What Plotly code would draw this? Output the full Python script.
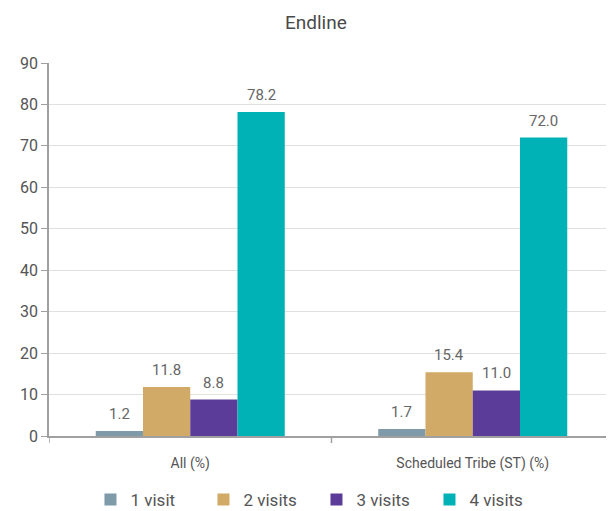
import plotly.graph_objects as go

categorias = ['All (%)', 'Scheduled Tribe (ST) (%)']
series = ['1 visit', '2 visits', '3 visits', '4 visits']
valores = {
    '1 visit': [1.2, 1.7],
    '2 visits': [11.8, 15.4],
    '3 visits': [8.8, 11.0],
    '4 visits': [78.2, 72.0],
}
colores = ['#7f9aa8', '#d2aa67', '#5b3c98', '#00b1b5']
y_ticks = [0, 10, 20, 30, 40, 50, 60, 70, 80, 90]

fuente = 'Roboto'
gris = '#555555'
gris_claro = '#666666'
hueco = 0.331  # bargap

fig = go.Figure()
for nombre, color in zip(series, colores):
    fig.add_trace(go.Bar(
        x=categorias, y=valores[nombre], name=nombre,
        marker_color=color, marker_line_width=0,
    ))

# etiquetas de valor, separadas de la barra
ancho = (1 - hueco) / len(series)
for j, nombre in enumerate(series):
    for i, v in enumerate(valores[nombre]):
        fig.add_annotation(x=i + (j - (len(series) - 1) / 2) * ancho, y=v,
                           text=f'{v:.1f}', showarrow=False,
                           yshift=17, yanchor='middle',
                           font=dict(family=fuente, size=15, color=gris_claro))

# marcas divisorias entre categorias
for i in range(len(categorias)):
    fig.add_shape(type='line', xref='x', yref='paper', x0=i - 0.5, x1=i - 0.5,
                  y0=0, y1=-0.019, line=dict(color='#a0a0a0', width=1.5))

fig.update_layout(
    title=dict(text='Endline', x=0.508, xanchor='center', yref='container', y=1 - 14 / 503,
               yanchor='middle', font=dict(family=fuente, size=19, color='#4a4a4a')),
    width=606, height=503,
    margin=dict(l=41, r=0, t=55, b=75, autoexpand=False),
    plot_bgcolor='white', paper_bgcolor='white',
    barmode='group', bargap=hueco, bargroupgap=0,
    showlegend=True,
    legend=dict(orientation='h', x=0.0734, xanchor='left', y=-0.1716, yanchor='middle',
                font=dict(family=fuente, size=17, color=gris),
                entrywidth=68, traceorder='normal'),
    font=dict(family=fuente, color=gris),
    xaxis=dict(
        range=[-0.5, 1.5], showgrid=False, automargin=False,
        showline=True, linecolor='#a0a0a0', linewidth=1.5,
        ticks='', ticklabelstandoff=13,
        tickfont=dict(family=fuente, size=14, color=gris),
    ),
    yaxis=dict(
        range=[0, 90], tickvals=y_ticks, automargin=False,
        showgrid=True, gridcolor='#e0e0e0', gridwidth=1,
        showline=True, linecolor='#a0a0a0', linewidth=1.5,
        ticks='outside', ticklen=6, tickcolor='#a0a0a0',
        tickfont=dict(family=fuente, size=16, color=gris),
        zeroline=False,
    ),
)

fig.write_html('out.html')
